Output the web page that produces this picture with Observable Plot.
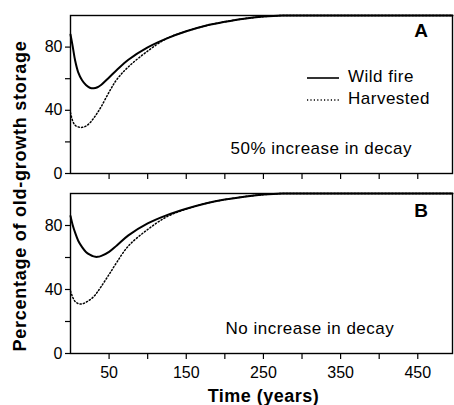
<!DOCTYPE html>
<html>
<head>
<meta charset="utf-8">
<script src="https://cdn.jsdelivr.net/npm/d3@7"></script>
<script src="https://cdn.jsdelivr.net/npm/@observablehq/plot@0.6"></script>
<style>
  body { margin: 0; background: #fff; }
  #wrap { position: relative; width: 454px; height: 405px; overflow: hidden; background: #fff;
          font-family: "Liberation Sans", Arial, sans-serif; color: #000; }
  #panelA { position: absolute; left: 0; top: 0; }
  #panelB { position: absolute; left: 0; top: 178px; }
  #ylab { position: absolute; width: 320px; height: 20px; line-height: 20px; left: -140px; top: 185.5px;
          text-align: center; transform: rotate(-90deg); transform-origin: 50% 50%;
          font-weight: bold; font-size: 18px; letter-spacing: 0.75px; white-space: nowrap; }
  #legend { position: absolute; left: 306px; top: 66px; font-size: 17px; letter-spacing: 0.5px; }
  #legend div { height: 22px; line-height: 22px; white-space: nowrap; }
  #legend svg { vertical-align: middle; margin-right: 8px; }
</style>
</head>
<body>
<div id="wrap">
  <div id="panelA"></div>
  <div id="panelB"></div>
  <div id="ylab">Percentage of old-growth storage</div>
  <div id="legend"></div>
</div>
<script>
// ---- data ----
const years    = [0, 3, 6, 10, 15, 20, 25, 30, 35, 40, 50, 60, 75, 100, 125, 150, 175, 200, 225, 250, 275, 300, 350, 400, 450, 495];
const wildA    = [88, 80, 71.5, 64, 59, 56, 54.3, 53.9, 54.6, 56.2, 60.8, 65.5, 72, 79.8, 85.5, 90, 93.5, 96, 98, 99.3, 100, 100, 100, 100, 100, 100];
const harvestA = [38.5, 33, 30.5, 29.5, 29.2, 30, 32, 35, 38.5, 42.5, 51.5, 59.5, 67.5, 77.5, 85.5, 90, 93.5, 96, 98, 99.3, 100, 100, 100, 100, 100, 100];
const wildB    = [86, 80, 75.5, 70.5, 66.5, 63.5, 61.8, 60.7, 60.4, 61, 63.5, 67.5, 73.8, 81.3, 86.5, 90.5, 93.8, 96.2, 98, 99.3, 100, 100, 100, 100, 100, 100];
const harvestB = [39, 35, 32.5, 31.2, 31, 32, 33.5, 35.5, 38.5, 42, 49.4, 57, 67.2, 77.5, 85.5, 90.3, 93.8, 96.2, 98, 99.3, 100, 100, 100, 100, 100, 100];
const seriesNames = ["Wild fire", "Harvested"];
const panelLetters = ["A", "B"];
const panelNotes = ["50% increase in decay", "No increase in decay"];
const xTicks = [50, 100, 150, 200, 250, 300, 350, 400, 450];
const xLabels = [50, 150, 250, 350, 450];
const yTicks = [0, 20, 40, 60, 80];
const yLabels = [0, 40, 80];
const xLabel = "Time (years)";

const FONT = "'Liberation Sans', Arial, sans-serif";

function makePanel(wild, harv, letter, note, bottom, letterDy, noteDx) {
  const wildRows = years.map((t, i) => ({t, v: wild[i], s: seriesNames[0]}));
  const harvRows = years.map((t, i) => ({t, v: harv[i], s: seriesNames[1]}));
  const svg = Plot.plot({
    width: 454,
    height: bottom ? 227 : 180,
    marginTop: 15,
    marginRight: 2,
    marginLeft: 70,
    marginBottom: bottom ? 52 : 7,
    style: {fontFamily: FONT, fontSize: "16px", background: "transparent", color: "#000", overflow: "visible"},
    x: {domain: [0, 495]},
    y: {domain: [0, 100]},
    marks: [
      Plot.line(harvRows, {x: "t", y: "v", stroke: "#000", strokeWidth: 1.5, strokeDasharray: "1.2,2.2", curve: "catmull-rom"}),
      Plot.line(wildRows, {x: "t", y: "v", stroke: "#000", strokeWidth: 2, curve: "catmull-rom"}),
      Plot.frame({stroke: "#000", strokeWidth: 1.4}),
      Plot.axisY({ticks: yTicks, tickSize: 5, tickPadding: 3, strokeWidth: 1.2,
                  tickFormat: d => yLabels.includes(d) ? String(d) : "", label: null}),
      Plot.axisX({ticks: xTicks, tickSize: 6, tickPadding: 7, strokeWidth: 1.2,
                  tickFormat: d => (bottom && xLabels.includes(d)) ? String(d) : "", label: null}),
      Plot.text([letter], {text: d => d, frameAnchor: "top-right", dx: -24, dy: letterDy, textAnchor: "end",
                           lineAnchor: "middle", fontWeight: "bold", fontSize: 19}),
      Plot.text([note], {text: d => d, frameAnchor: "bottom-left", dx: noteDx, dy: -25, textAnchor: "start",
                         lineAnchor: "middle", fontSize: 17}),
      bottom ? Plot.text([xLabel], {text: d => d, frameAnchor: "bottom", dx: 2, dy: 43, lineAnchor: "middle",
                                    fontWeight: "bold", fontSize: 18}) : null
    ]
  });
  svg.querySelectorAll('g[aria-label="text"] text').forEach(t => t.style.letterSpacing = "0.5px");
  return svg;
}

document.getElementById("panelA").appendChild(makePanel(wildA, harvestA, panelLetters[0], panelNotes[0], false, 15, 160));
document.getElementById("panelB").appendChild(makePanel(wildB, harvestB, panelLetters[1], panelNotes[1], true, 17, 155));

// legend
const legend = document.getElementById("legend");
seriesNames.forEach((name, i) => {
  const row = document.createElement("div");
  const dash = i === 0 ? "" : 'stroke-dasharray="1.2,2.2"';
  const sw = i === 0 ? 1.6 : 1.4;
  row.innerHTML = `<svg width="34" height="6"><line x1="1" x2="33" y1="3" y2="3" stroke="#000" stroke-width="${sw}" ${dash}/></svg>${name}`;
  legend.appendChild(row);
});
</script>
</body>
</html>
